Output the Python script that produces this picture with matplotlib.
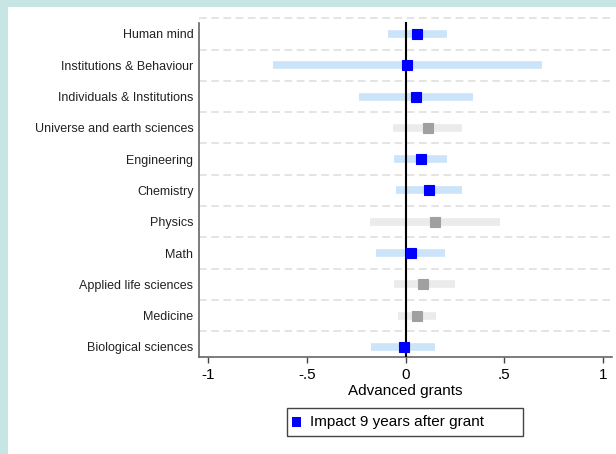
import numpy as np
import matplotlib.pyplot as plt
from matplotlib.patches import Rectangle

# data (top to bottom)
fields = ["Human mind", "Institutions & Behaviour", "Individuals & Institutions",
          "Universe and earth sciences", "Engineering", "Chemistry", "Physics",
          "Math", "Applied life sciences", "Medicine", "Biological sciences"]
estimate = [0.059, 0.005, 0.051, 0.111, 0.078, 0.116, 0.150, 0.025, 0.090, 0.059, -0.010]
ci_low = [-0.090, -0.670, -0.236, -0.062, -0.057, -0.049, -0.181, -0.148, -0.061, -0.041, -0.176]
ci_high = [0.211, 0.689, 0.343, 0.287, 0.211, 0.287, 0.478, 0.197, 0.248, 0.155, 0.150]
significant = [True, True, True, False, True, True, False, True, False, False, True]
xticks = [-1, -0.5, 0, 0.5, 1]
xticklabels = ["-1", "-.5", "0", ".5", "1"]

plt.rcParams['font.family'] = ['Liberation Sans', 'DejaVu Sans']

fig = plt.figure(figsize=(6.16, 4.54), dpi=100, facecolor="#c7e5e5")
fig.patches.append(Rectangle((8/616, 0), 1, 1 - 7/454, transform=fig.transFigure,
                             facecolor="white", edgecolor="none", zorder=-10))

ax = fig.add_axes([199/616, 97/454, 413/616, 340/454])
ax.set_facecolor("none")

n = len(fields)
ypos = np.arange(n)[::-1]

for i in range(n):
    if significant[i]:
        bar_c, dot_c = "#cce4fa", "#0000ff"
    else:
        bar_c, dot_c = "#ebebeb", "#a0a0a0"
    ax.plot([ci_low[i], ci_high[i]], [ypos[i], ypos[i]], color=bar_c, lw=5.5,
            solid_capstyle="butt", zorder=2)
    ax.plot(estimate[i], ypos[i], marker="s", ms=6.5, color=dot_c, mec=dot_c,
            mew=0.8, zorder=4)

# separators between rows
for k in range(n):
    ax.axhline(k + 0.5, color="#dcdcdc", lw=1.1, ls=(0, (5, 3)), zorder=1)

ax.set_ylim(-0.32, 10.54)
ax.set_xlim(-1.046, 1.045)
ax.plot([0, 0], [-0.32, 10.35], color="black", lw=1.5, zorder=3)

ax.set_yticks(ypos)
ax.set_yticklabels(fields, fontsize=9.0, color="#222222")
ax.tick_params(axis="y", length=0, pad=4)
ax.set_xticks(xticks)
ax.set_xticklabels(xticklabels, fontsize=11)
ax.tick_params(axis="x", length=4, width=1, color="#444444", pad=4)
ax.set_xlabel("Advanced grants", fontsize=11, labelpad=1)

for s in ["top", "right"]:
    ax.spines[s].set_visible(False)
ax.spines["left"].set_bounds(-0.32, 10.35)
ax.spines["left"].set_color("#666666")
ax.spines["bottom"].set_color("#666666")
ax.spines["left"].set_linewidth(1.2)
ax.spines["bottom"].set_linewidth(1.2)

# legend
fig.patches.append(Rectangle((287/616, (454-436)/454), 236/616, 28/454,
                             transform=fig.transFigure, facecolor="white",
                             edgecolor="#444444", lw=1, zorder=5))
fig.patches.append(Rectangle((292/616, (454-427)/454), 9/616, 10/454,
                             transform=fig.transFigure, facecolor="#0000ff",
                             edgecolor="none", zorder=6))
fig.text(310/616, (454-422)/454, "Impact 9 years after grant", fontsize=11,
         va="center", ha="left", zorder=7)

fig.savefig("out.png", dpi=100, facecolor=fig.get_facecolor())
